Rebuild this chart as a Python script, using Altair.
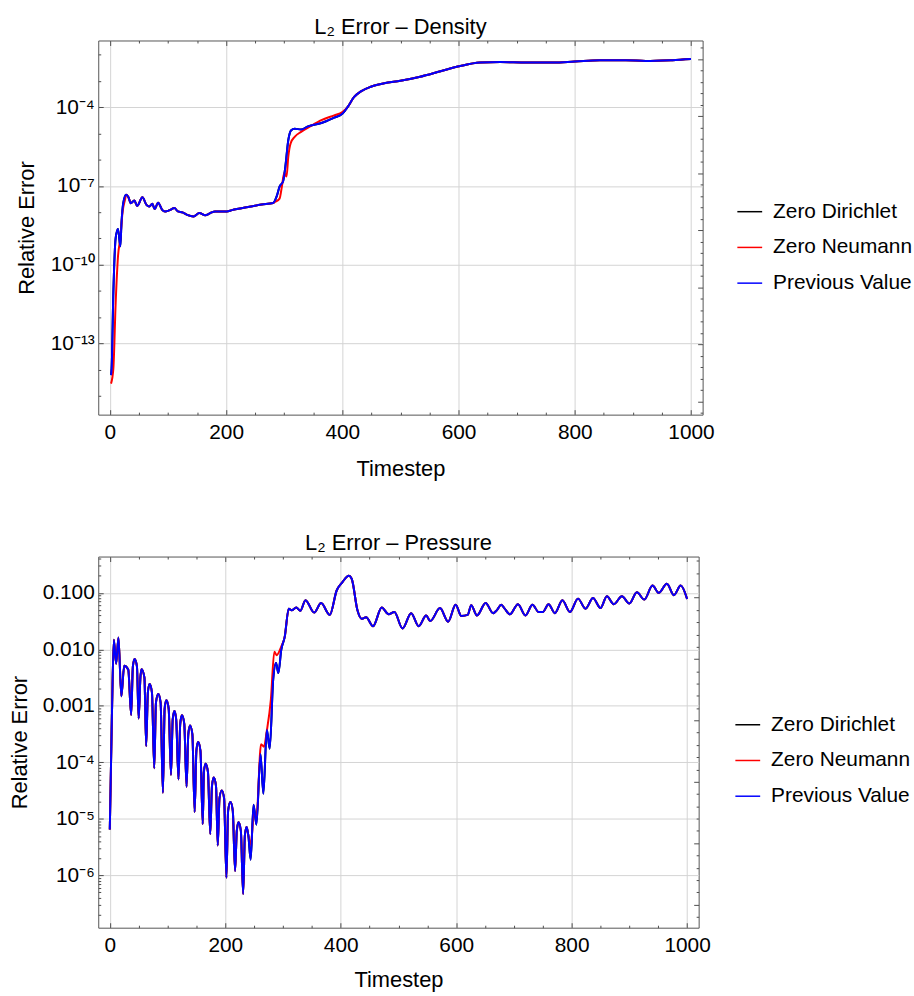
import math
import altair as alt
import pandas as pd

series_names = ["Zero Dirichlet", "Zero Neumann", "Previous Value"]
series_colors = ["#000000", "#ff0000", "#0000ff"]

# ---------------- Density ----------------
dens_prev_t = [2, 3, 6, 10, 14, 18, 20, 23, 28, 32,
               36, 42, 47, 56, 63, 68, 73, 77, 83, 90,
               95, 100, 104, 111, 117, 125, 133, 144, 154, 164,
               173, 181, 193, 201, 210, 238, 261, 281, 287, 292,
               298, 302, 307, 312, 318, 329, 341, 364, 386, 400,
               409, 420, 432, 449, 472, 500, 534, 569, 603, 637,
               672, 717, 763, 800, 843, 888, 922, 968, 1000]
dens_prev_v = [6.2e-15, 1.1e-14, 8.7e-12, 1.05e-9, 2.3e-9, 5.0e-10, 3.9e-9, 2.2e-8, 4.6e-8, 3.7e-8,
               2.2e-8, 2.8e-8, 1.74e-8, 3.7e-8, 1.9e-8, 1.66e-8, 2.1e-8, 1.32e-8, 2.3e-8, 1.23e-8,
               1.07e-8, 1.12e-8, 1.23e-8, 1.45e-8, 1.07e-8, 9.8e-9, 7.9e-9, 6.9e-9, 9.3e-9, 7.6e-9,
               9.3e-9, 1.07e-8, 1.07e-8, 1.07e-8, 1.2e-8, 1.58e-8, 1.95e-8, 2.24e-8, 4.0e-8, 9.5e-8,
               1.48e-7, 5.5e-7, 5.5e-6, 1.32e-5, 1.51e-5, 1.41e-5, 1.86e-5, 2.5e-5, 4.0e-5, 5.6e-5,
               1.0e-4, 2.4e-4, 4.0e-4, 6.0e-4, 8.1e-4, 1.02e-3, 1.45e-3, 2.34e-3, 3.7e-3, 5.0e-3,
               5.25e-3, 5.0e-3, 5.0e-3, 5.5e-3, 6.2e-3, 6.2e-3, 5.75e-3, 6.2e-3, 6.8e-3]
dens_neu_t = [2, 6, 10, 14, 18, 22, 26, 28, 32,
              36, 42, 47, 56, 63, 68, 73, 77, 83, 90,
              95, 100, 104, 111, 117, 125, 133, 144, 154, 164,
              173, 181, 193, 201, 210, 238, 261, 281, 284, 292,
              296, 300, 304, 307, 311, 318, 329, 347, 364, 386,
              400, 409, 420, 432, 449, 472, 500, 534, 569, 603,
              637, 672, 717, 763, 800, 843, 888, 922, 968, 1000]
dens_neu_v = [2.95e-15, 1.1e-14, 3.6e-12, 2.1e-10, 1.05e-9, 1.07e-8, 2.95e-8, 4.6e-8, 3.7e-8,
              2.2e-8, 2.8e-8, 1.74e-8, 3.7e-8, 1.9e-8, 1.66e-8, 2.1e-8, 1.32e-8, 2.3e-8, 1.23e-8,
              1.07e-8, 1.12e-8, 1.23e-8, 1.45e-8, 1.07e-8, 9.8e-9, 7.9e-9, 6.9e-9, 9.3e-9, 7.6e-9,
              9.3e-9, 1.07e-8, 1.07e-8, 1.07e-8, 1.2e-8, 1.58e-8, 1.95e-8, 2.24e-8, 2.45e-8, 3.3e-8,
              9.5e-8, 3.1e-7, 2.3e-7, 1.29e-6, 4.2e-6, 7.4e-6, 1.15e-5, 2.0e-5, 3.2e-5, 4.9e-5,
              6.5e-5, 1.0e-4, 2.4e-4, 4.0e-4, 6.0e-4, 8.1e-4, 1.02e-3, 1.45e-3, 2.34e-3, 3.7e-3,
              5.0e-3, 5.25e-3, 5.0e-3, 5.0e-3, 5.5e-3, 6.2e-3, 6.2e-3, 5.75e-3, 6.2e-3, 6.8e-3]
# Zero Dirichlet lies exactly under Previous Value in the reference
dens_dir_t = list(dens_prev_t)
dens_dir_v = list(dens_prev_v)

# ---------------- Pressure ----------------
pres_prev_t = [0, 4, 7, 11, 15, 20, 25, 32, 37, 40,
               43, 47, 50, 53, 55, 60, 63, 66, 69, 73,
               77, 80, 84, 88, 92, 95, 98, 102, 106, 109,
               112, 115, 119, 122, 125, 129, 133, 136, 139, 143,
               147, 150, 153, 157, 161, 163, 166, 170, 174, 177,
               180, 184, 187, 190, 194, 198, 202, 205, 209, 213,
               217, 220, 223, 227, 231, 234, 237, 240, 244, 249,
               254, 261, 266, 272, 277, 283, 288, 292, 297, 303,
               310, 315, 323, 330, 339, 354, 366, 381, 393, 403,
               414, 419, 429, 436, 444, 456, 471, 483, 493, 507,
               522, 535, 548, 555, 572, 586, 599, 609, 620, 626,
               636, 651, 664, 671, 678, 684, 693, 707, 720, 732,
               743, 750, 760, 771, 784, 797, 811, 824, 837, 850,
               861, 873, 887, 900, 913, 926, 940, 951, 965, 977,
               989, 1000]
pres_prev_v = [6.5e-6, 1.0e-3, 1.48e-2, 5.56e-3, 1.62e-2, 1.48e-3, 5.13e-3, 4.37e-3, 6.9e-4, 5.0e-3,
               6.76e-3, 5.0e-3, 6.0e-4, 3.16e-3, 4.47e-3, 3.16e-3, 1.95e-4, 1.74e-3, 2.45e-3, 1.74e-3,
               7.9e-5, 1.15e-3, 1.62e-3, 1.15e-3, 2.9e-5, 8.9e-4, 1.26e-3, 8.9e-4, 6.0e-5, 5.75e-4,
               8.1e-4, 5.75e-4, 5.0e-5, 4.8e-4, 6.8e-4, 4.8e-4, 3.7e-5, 3.16e-4, 4.5e-4, 3.16e-4,
               1.32e-5, 1.62e-4, 2.3e-4, 1.62e-4, 8.1e-6, 6.8e-5, 9.5e-5, 6.8e-5, 5.4e-6, 3.8e-5,
               5.4e-5, 3.8e-5, 3.4e-6, 2.3e-5, 3.2e-5, 2.3e-5, 9.1e-7, 1.41e-5, 2.0e-5, 1.41e-5,
               1.2e-6, 6.2e-6, 8.7e-6, 6.2e-6, 4.7e-7, 5.1e-6, 7.2e-6, 5.1e-6, 1.9e-6, 1.78e-5,
               7.9e-6, 1.41e-4, 2.8e-5, 3.8e-4, 1.74e-4, 2.9e-3, 5.75e-3, 3.8e-3, 9.8e-3, 1.66e-2,
               5.25e-2, 4.9e-2, 5.5e-2, 4.8e-2, 7.4e-2, 4.47e-2, 6.6e-2, 4.07e-2, 0.110, 0.155,
               0.200, 0.178, 4.9e-2, 3.47e-2, 3.7e-2, 2.57e-2, 5.5e-2, 4.17e-2, 4.57e-2, 2.34e-2,
               4.37e-2, 2.57e-2, 3.98e-2, 3.16e-2, 5.37e-2, 3.09e-2, 6.17e-2, 3.89e-2, 4.07e-2, 6.03e-2,
               3.98e-2, 6.6e-2, 4.37e-2, 5.0e-2, 6.17e-2, 5.25e-2, 4.17e-2, 6.3e-2, 3.98e-2, 6.17e-2,
               4.57e-2, 4.57e-2, 6.3e-2, 4.37e-2, 7.4e-2, 4.57e-2, 7.9e-2, 5.25e-2, 8.1e-2, 5.37e-2,
               8.7e-2, 6.3e-2, 8.7e-2, 6.46e-2, 0.102, 7.6e-2, 0.135, 0.100, 0.145, 9.1e-2,
               0.135, 7.8e-2]
pres_neu_t = [0, 4, 7, 11, 15, 20, 25, 32, 37, 40,
              43, 47, 50, 53, 55, 60, 63, 66, 69, 73,
              77, 80, 84, 88, 92, 95, 98, 102, 106, 109,
              112, 115, 119, 122, 125, 129, 133, 136, 139, 143,
              147, 150, 153, 157, 161, 163, 166, 170, 174, 177,
              180, 184, 187, 190, 194, 198, 202, 205, 209, 213,
              217, 220, 223, 227, 231, 234, 237, 240, 244, 250,
              254, 262, 267, 272, 279, 285, 289, 297, 303,
              310, 315, 323, 330, 339, 354, 366, 381, 393, 403,
              414, 419, 429, 436, 444, 456, 471, 483, 493, 507,
              522, 535, 548, 555, 572, 586, 599, 609, 620, 626,
              636, 651, 664, 671, 678, 684, 693, 707, 720, 732,
              743, 750, 760, 771, 784, 797, 811, 824, 837, 850,
              861, 873, 887, 900, 913, 926, 940, 951, 965, 977,
              989, 1000]
pres_neu_v = [6.5e-6, 1.0e-3, 1.48e-2, 5.56e-3, 1.62e-2, 1.48e-3, 5.13e-3, 4.37e-3, 6.9e-4, 5.0e-3,
              6.76e-3, 5.0e-3, 6.0e-4, 3.16e-3, 4.47e-3, 3.16e-3, 1.95e-4, 1.74e-3, 2.45e-3, 1.74e-3,
              7.9e-5, 1.15e-3, 1.62e-3, 1.15e-3, 2.9e-5, 8.9e-4, 1.26e-3, 8.9e-4, 6.0e-5, 5.75e-4,
              8.1e-4, 5.75e-4, 5.0e-5, 4.8e-4, 6.8e-4, 4.8e-4, 3.7e-5, 3.16e-4, 4.5e-4, 3.16e-4,
              1.32e-5, 1.62e-4, 2.3e-4, 1.62e-4, 8.1e-6, 6.8e-5, 9.5e-5, 6.8e-5, 5.4e-6, 3.8e-5,
              5.4e-5, 3.8e-5, 3.4e-6, 2.3e-5, 3.2e-5, 2.3e-5, 9.1e-7, 1.41e-5, 2.0e-5, 1.41e-5,
              1.2e-6, 6.2e-6, 8.7e-6, 6.2e-6, 4.7e-7, 5.1e-6, 7.2e-6, 5.1e-6, 3.5e-6, 1.26e-5,
              1.12e-5, 2.1e-4, 1.9e-4, 3.6e-4, 1.29e-3, 9.1e-3, 7.9e-3, 1.12e-2, 1.66e-2,
              5.25e-2, 4.9e-2, 5.5e-2, 4.8e-2, 7.4e-2, 4.47e-2, 6.6e-2, 4.07e-2, 0.110, 0.155,
              0.200, 0.178, 4.9e-2, 3.47e-2, 3.7e-2, 2.57e-2, 5.5e-2, 4.17e-2, 4.57e-2, 2.34e-2,
              4.37e-2, 2.57e-2, 3.98e-2, 3.16e-2, 5.37e-2, 3.09e-2, 6.17e-2, 3.89e-2, 4.07e-2, 6.03e-2,
              3.98e-2, 6.6e-2, 4.37e-2, 5.0e-2, 6.17e-2, 5.25e-2, 4.17e-2, 6.3e-2, 3.98e-2, 6.17e-2,
              4.57e-2, 4.57e-2, 6.3e-2, 4.37e-2, 7.4e-2, 4.57e-2, 7.9e-2, 5.25e-2, 8.1e-2, 5.37e-2,
              8.7e-2, 6.3e-2, 8.7e-2, 6.46e-2, 0.102, 7.6e-2, 0.135, 0.100, 0.145, 9.1e-2,
              0.135, 7.8e-2]
pres_dir_t = list(pres_prev_t)
pres_dir_v = list(pres_prev_v)

# ---------------- ticks ----------------
x_domain = [-20, 1020]
x_major = [0, 200, 400, 600, 800, 1000]
x_minor = [v for v in range(0, 1001, 50) if v not in x_major]

dens_y_domain = [1.95e-16, 0.0347]
dens_y_major = [1e-13, 1e-10, 1e-7, 1e-4]
dens_y_major_labels = ["10⁻¹³", "10⁻¹⁰", "10⁻⁷", "10⁻⁴"]
dens_y_minor = [10.0 ** k for k in range(-15, -1) if k not in (-13, -10, -7, -4)]
dens_r_major = [math.exp(-k) for k in range(5, 40, 5) if dens_y_domain[0] <= math.exp(-k) <= dens_y_domain[1]]
dens_r_minor = [math.exp(-k) for k in range(1, 40) if k % 5 and dens_y_domain[0] <= math.exp(-k) <= dens_y_domain[1]]

pres_y_domain = [1.19e-7, 0.4385]
pres_y_major = [0.1, 0.01, 0.001, 1e-4, 1e-5, 1e-6]
pres_y_major_labels = ["0.100", "0.010", "0.001", "10⁻⁴", "10⁻⁵", "10⁻⁶"]
pres_y_minor = [m * 10.0 ** k for k in range(-7, 0) for m in range(2, 10)
                if pres_y_domain[0] <= m * 10.0 ** k <= pres_y_domain[1]]
pres_r_major = [math.exp(-k / 2) for k in range(5, 33, 5) if pres_y_domain[0] <= math.exp(-k / 2) <= pres_y_domain[1]]
pres_r_minor = [math.exp(-k / 2) for k in range(1, 33) if k % 5 and pres_y_domain[0] <= math.exp(-k / 2) <= pres_y_domain[1]]


def make_df(ts, vs):
    frames = []
    for name, t, v in zip(series_names, ts, vs):
        frames.append(pd.DataFrame({"t": t, "v": v, "s": name}))
    return pd.concat(frames, ignore_index=True)


def label_expr(values, labels):
    parts = [f"abs(datum.value / {v!r} - 1) < 0.001 ? '{lab}'" for v, lab in zip(values, labels)]
    return " : ".join(parts) + " : ''"


TICK = "#4d4d4d"
MAJ = 5
MIN = 2.5


def panel(df, title, y_domain, y_major, y_labels, y_minor, r_major, r_minor,
          width, height, legend_x, legend_y, y_title_pad, x_title_pad):
    xs = alt.Scale(domain=x_domain, nice=False, zero=False)
    ys = alt.Scale(type="log", domain=y_domain, nice=False)
    color = alt.Color("s:N", scale=alt.Scale(domain=series_names, range=series_colors),
                      legend=alt.Legend(title=None, orient="none", legendX=legend_x, legendY=legend_y,
                                        symbolType="stroke", symbolSize=625, symbolStrokeWidth=1.5,
                                        labelFontSize=21, labelOffset=10, rowPadding=12, padding=0,
                                        labelColor="black", labelFont="Liberation Sans"))
    x_main = alt.Axis(orient="bottom", values=x_major, format="d", title="Timestep", grid=True,
                      offset=-MAJ, tickSize=MAJ, labelPadding=7, titlePadding=x_title_pad, domain=False,
                      labelFlush=False, labelOverlap=False)
    y_main = alt.Axis(orient="left", values=y_major, labelExpr=label_expr(y_major, y_labels),
                      title="Relative Error", grid=True, offset=-MAJ, tickSize=MAJ,
                      labelPadding=4, titlePadding=y_title_pad, domain=False, labelOverlap=False)

    def tick_axis(orient, values, size):
        return alt.Axis(orient=orient, values=values, labels=False, grid=False, domain=False,
                        offset=-size, tickSize=size, title=None)

    layers = []
    for i, name in enumerate(series_names):
        layers.append(
            alt.Chart(df).transform_filter(alt.datum.s == name)
            .mark_line(strokeWidth=2, interpolate="monotone", clip=True)
            .encode(x=alt.X("t:Q", scale=xs, axis=x_main if i == 0 else None),
                    y=alt.Y("v:Q", scale=ys, axis=y_main if i == 0 else None),
                    color=color)
        )
    helpers = [
        (tick_axis("bottom", x_minor, MIN), tick_axis("left", y_minor, MIN)),
        (tick_axis("top", x_major, MAJ), tick_axis("right", r_major, MAJ)),
        (tick_axis("top", x_minor, MIN), tick_axis("right", r_minor, MIN)),
    ]
    for xa, ya in helpers:
        layers.append(
            alt.Chart(df).mark_point(opacity=0)
            .encode(x=alt.X("t:Q", scale=xs, axis=xa), y=alt.Y("v:Q", scale=ys, axis=ya))
        )
    return (alt.layer(*layers)
            .resolve_axis(x="independent", y="independent")
            .properties(width=width, height=height,
                        title=alt.Title(title, fontSize=22, fontWeight="normal", anchor="middle",
                                        offset=1, color="black", font="Liberation Sans")))


dens_df = make_df([dens_dir_t, dens_neu_t, dens_prev_t], [dens_dir_v, dens_neu_v, dens_prev_v])
pres_df = make_df([pres_dir_t, pres_neu_t, pres_prev_t], [pres_dir_v, pres_neu_v, pres_prev_v])

top = panel(dens_df, "L₂ Error – Density", dens_y_domain, dens_y_major, dens_y_major_labels,
            dens_y_minor, dens_r_major, dens_r_minor, 609, 377, 643, 159, 12, 16)
bottom = panel(pres_df, "L₂ Error – Pressure", pres_y_domain, pres_y_major, pres_y_major_labels,
               pres_y_minor, pres_r_major, pres_r_minor, 605, 374, 641, 156, 11, 14)

chart = (alt.ConcatChart(concat=[top, bottom], columns=1, spacing=52, align="none")
         .resolve_scale(color="independent")
         .properties(padding={"left": 7, "top": 12, "right": 0, "bottom": 0})
         .configure(font="Liberation Sans")
         .configure_view(stroke="#555555", strokeWidth=1)
         .configure_axis(labelFontSize=21, labelColor="black", labelFont="Liberation Sans",
                         tickColor=TICK, tickWidth=1, gridColor="#d4d4d4", gridWidth=1,
                         titleFontSize=22, titleFontWeight="normal", titleColor="black",
                         titleFont="Liberation Sans")
         .configure_legend(labelFontSize=21))

chart.save("out.html", embed_options={"renderer": "svg", "actions": False})
